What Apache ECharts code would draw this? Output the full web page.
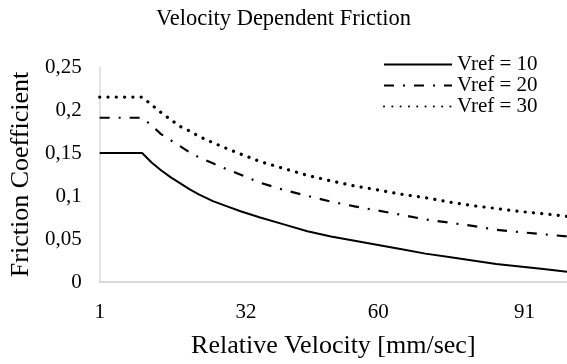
<!DOCTYPE html>
<html>
<head>
<meta charset="utf-8">
<script src="https://cdn.jsdelivr.net/npm/echarts@6/dist/echarts.min.js"></script>
<style>
html,body{margin:0;padding:0;background:#fff;}
#chart{width:567px;height:364px;}
</style>
</head>
<body>
<div id="chart"></div>
<script>
// Relative velocity (mm/sec) sample positions
var velocity = [1, 10, 12, 14, 16, 18, 20, 22, 25, 28, 31, 35, 40, 45, 50, 55, 60, 65, 70, 75, 80, 85, 90, 95, 100];
// Friction coefficient
var vref10 = [0.150, 0.150, 0.139, 0.130, 0.122, 0.115, 0.108, 0.102, 0.094, 0.088, 0.082, 0.075, 0.067, 0.059, 0.053, 0.048, 0.043, 0.038, 0.033, 0.029, 0.025, 0.021, 0.018, 0.015, 0.012];
var vref20 = [0.191, 0.191, 0.182, 0.172, 0.165, 0.158, 0.151, 0.145, 0.138, 0.131, 0.1245, 0.1155, 0.107, 0.1002, 0.0934, 0.088, 0.083, 0.078, 0.0728, 0.069, 0.0652, 0.0608, 0.058, 0.0555, 0.053];
var vref30 = [0.215, 0.215, 0.206, 0.197, 0.189, 0.181, 0.1757, 0.1694, 0.162, 0.155, 0.1485, 0.140, 0.132, 0.124, 0.1175, 0.1117, 0.107, 0.102, 0.098, 0.093, 0.0888, 0.0855, 0.082, 0.0794, 0.0763];
var seriesNames = ['Vref = 10', 'Vref = 20', 'Vref = 30'];
var xTickValues = [1, 32, 60, 91];

function pairs(ys) {
  return velocity.map(function (x, i) { return [x, ys[i]]; });
}

var FONT = 'Liberation Serif';
var chart = echarts.init(document.getElementById('chart'), null, {renderer: 'canvas'});
chart.setOption({
  animation: false,
  backgroundColor: '#ffffff',
  title: {
    text: 'Velocity Dependent Friction',
    left: 'center',
    top: 3,
    textStyle: {fontFamily: FONT, fontSize: 22.5, fontWeight: 'normal', color: '#000'}
  },
  legend: {
    data: seriesNames,
    orient: 'vertical',
    left: 383,
    top: 54,
    padding: 0,
    itemWidth: 68,
    itemHeight: 14,
    itemGap: 0,
    itemStyle: {color: 'rgba(0,0,0,0)', borderWidth: 0},
    textStyle: {fontFamily: FONT, fontSize: 21, color: '#000', lineHeight: 20.5}
  },
  grid: {left: 98, right: 0, top: 67, bottom: 76, containLabel: false},
  xAxis: {
    type: 'value',
    min: 1,
    max: 100,
    name: 'Relative Velocity [mm/sec]',
    nameLocation: 'middle',
    nameGap: 51,
    nameTextStyle: {fontFamily: FONT, fontSize: 26, color: '#000'},
    axisLine: {show: true, onZero: false, lineStyle: {color: '#d9d9d9', width: 2}},
    axisTick: {show: false},
    splitLine: {show: false},
    axisLabel: {
      customValues: xTickValues,
      margin: 20,
      fontFamily: FONT, fontSize: 21, color: '#000',
      formatter: function (v) { return String(v); }
    }
  },
  yAxis: {
    type: 'value',
    min: 0,
    max: 0.25,
    interval: 0.05,
    name: 'Friction Coefficient',
    nameLocation: 'middle',
    nameGap: 63,
    nameTextStyle: {fontFamily: FONT, fontSize: 26, color: '#000'},
    axisLine: {show: true, lineStyle: {color: '#d9d9d9', width: 1.5}},
    axisTick: {show: false},
    splitLine: {show: false},
    axisLabel: {
      margin: 18,
      fontFamily: FONT, fontSize: 21, color: '#000',
      formatter: function (v) { return String(Number(v.toFixed(2))).replace('.', ','); }
    }
  },
  series: [
    {
      name: seriesNames[0], type: 'line', data: pairs(vref10),
      symbol: 'none', symbolSize: 0, showSymbol: false, smooth: false,
      lineStyle: {color: '#000', width: 2, type: 'solid'},
      itemStyle: {color: '#000'}
    },
    {
      name: seriesNames[1], type: 'line', data: pairs(vref20),
      symbol: 'none', symbolSize: 0, showSymbol: false, smooth: false,
      lineStyle: {color: '#000', width: 2.2, type: [10, 9, 2, 9], cap: 'butt'},
      itemStyle: {color: '#000'}
    },
    {
      name: seriesNames[2], type: 'line', data: pairs(vref30),
      symbol: 'none', symbolSize: 0, showSymbol: false, smooth: false,
      lineStyle: {color: '#000', width: 3.2, type: [0.1, 8.2], cap: 'round'},
      itemStyle: {color: '#000'}
    }
  ]
});
</script>
</body>
</html>
